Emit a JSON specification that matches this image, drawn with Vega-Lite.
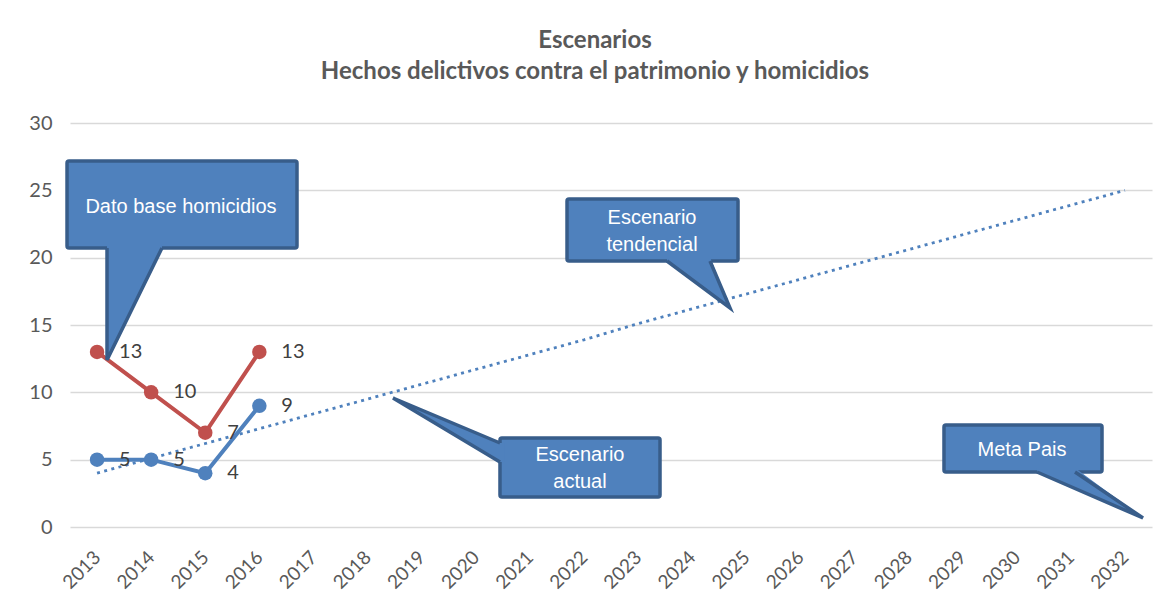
{
  "$schema": "https://vega.github.io/schema/vega-lite/v6.json",
  "width": 1082,
  "height": 404,
  "autosize": {"type": "none"},
  "padding": {"left": 70, "top": 123, "right": 22, "bottom": 84},
  "background": "white",
  "config": {"view": {"stroke": null}},
  "title": {
    "text": ["Escenarios", "Hechos delictivos contra el patrimonio y homicidios"],
    "font": "Lato",
    "fontSize": 24,
    "fontWeight": "bold",
    "color": "#595959",
    "anchor": "middle",
    "lineHeight": 31,
    "offset": 29,
    "dx": -16
  },
  "datasets": {
    "series": [
      {"year": 2013, "value": 13, "serie": "Homicidios"},
      {"year": 2014, "value": 10, "serie": "Homicidios"},
      {"year": 2015, "value": 7, "serie": "Homicidios"},
      {"year": 2016, "value": 13, "serie": "Homicidios"},
      {"year": 2013, "value": 5, "serie": "Patrimonio"},
      {"year": 2014, "value": 5, "serie": "Patrimonio"},
      {"year": 2015, "value": 4, "serie": "Patrimonio"},
      {"year": 2016, "value": 9, "serie": "Patrimonio"}
    ],
    "trend": [
      {"year": 2013, "value": 4.0}, {"year": 2014, "value": 5.1}, {"year": 2015, "value": 6.2},
      {"year": 2016, "value": 7.3}, {"year": 2017, "value": 8.4}, {"year": 2018, "value": 9.5},
      {"year": 2019, "value": 10.6}, {"year": 2020, "value": 11.7}, {"year": 2021, "value": 12.8},
      {"year": 2022, "value": 13.9}, {"year": 2023, "value": 15.1}, {"year": 2024, "value": 16.2},
      {"year": 2025, "value": 17.3}, {"year": 2026, "value": 18.4}, {"year": 2027, "value": 19.5},
      {"year": 2028, "value": 20.6}, {"year": 2029, "value": 21.7}, {"year": 2030, "value": 22.8},
      {"year": 2031, "value": 23.9}, {"year": 2032, "value": 25.0}
    ],
    "boxes": [
      {"id": "c1", "x1": 2012.445, "x2": 2016.696, "y1": 27.18, "y2": 20.72, "tx": 2014.552, "ty": 23.76, "label": "Dato base homicidios"},
      {"id": "c2", "x1": 2021.687, "x2": 2024.848, "y1": 24.356, "y2": 19.752, "tx": 2023.258, "ty": 22.95, "label": "Escenario\ntendencial"},
      {"id": "c3", "x1": 2020.448, "x2": 2023.406, "y1": 6.609, "y2": 2.228, "tx": 2021.927, "ty": 5.35, "label": "Escenario\nactual"},
      {"id": "c4", "x1": 2028.655, "x2": 2031.576, "y1": 7.574, "y2": 4.084, "tx": 2030.097, "ty": 5.718, "label": "Meta  Pais"}
    ],
    "pointers": [
      {"id": "c1", "x": 2013.184, "lo": 12.40, "hi": 21.02},
      {"id": "c1", "x": 2014.2, "lo": 20.72, "hi": 21.02},
      {"id": "c2", "x": 2023.535, "lo": 19.752, "hi": 20.05},
      {"id": "c2", "x": 2024.33, "lo": 17.37, "hi": 20.05},
      {"id": "c2", "x": 2024.70, "lo": 16.262, "hi": 16.262},
      {"id": "c3", "x": 2018.47, "lo": 9.579, "hi": 9.579},
      {"id": "c3", "x": 2020.448, "lo": 4.827, "hi": 6.237},
      {"id": "c3", "x": 2020.53, "lo": 4.827, "hi": 6.237},
      {"id": "c4", "x": 2030.374, "lo": 4.084, "hi": 4.384},
      {"id": "c4", "x": 2031.077, "lo": 2.86, "hi": 4.384},
      {"id": "c4", "x": 2032.334, "lo": 0.668, "hi": 0.668}
    ],
    "outlines": [
      {"id": "c1", "ord": 1, "x": 2013.184, "y": 20.72},
      {"id": "c1", "ord": 2, "x": 2013.184, "y": 12.40},
      {"id": "c1", "ord": 3, "x": 2014.2, "y": 20.72},
      {"id": "c2", "ord": 1, "x": 2023.535, "y": 19.752},
      {"id": "c2", "ord": 2, "x": 2024.70, "y": 16.262},
      {"id": "c2", "ord": 3, "x": 2024.33, "y": 19.752},
      {"id": "c3", "ord": 1, "x": 2020.448, "y": 6.237},
      {"id": "c3", "ord": 2, "x": 2018.47, "y": 9.579},
      {"id": "c3", "ord": 3, "x": 2020.448, "y": 4.827},
      {"id": "c4", "ord": 1, "x": 2030.374, "y": 4.084},
      {"id": "c4", "ord": 2, "x": 2032.334, "y": 0.668},
      {"id": "c4", "ord": 3, "x": 2031.077, "y": 4.084}
    ]
  },
  "layer": [
    {
      "data": {"name": "trend"},
      "mark": {"type": "line", "color": "#4F81BD", "strokeWidth": 2.8, "strokeDash": [3, 4.4], "strokeCap": "butt"},
      "encoding": {
        "x": {
          "field": "year", "type": "quantitative",
          "scale": {"domain": [2012.5, 2032.5], "nice": false, "zero": false},
          "axis": {
            "values": [2013, 2014, 2015, 2016, 2017, 2018, 2019, 2020, 2021, 2022, 2023, 2024, 2025, 2026, 2027, 2028, 2029, 2030, 2031, 2032],
            "format": "d", "title": null, "grid": false, "domain": false, "ticks": false, "tickSize": 0,
            "labelAngle": -45, "labelAlign": "right", "labelBaseline": "middle", "labelPadding": 27,
            "labelFont": "Lato", "labelFontSize": 19, "labelColor": "#595959",
            "labelOverlap": false, "labelFlush": false, "labelBound": false
          }
        },
        "y": {
          "field": "value", "type": "quantitative",
          "scale": {"domain": [0, 30], "nice": false},
          "axis": {
            "values": [0, 5, 10, 15, 20, 25, 30], "title": null, "domain": false, "ticks": false, "tickSize": 0,
            "grid": true, "gridColor": "#D9D9D9", "gridWidth": 1.3,
            "labelPadding": 18, "labelFont": "Lato", "labelFontSize": 20, "labelColor": "#595959"
          }
        }
      }
    },
    {
      "data": {"name": "series"},
      "mark": {"type": "line", "strokeWidth": 4},
      "encoding": {
        "x": {"field": "year", "type": "quantitative"},
        "y": {"field": "value", "type": "quantitative"},
        "color": {"field": "serie", "type": "nominal", "scale": {"domain": ["Homicidios", "Patrimonio"], "range": ["#C0504D", "#4F81BD"]}, "legend": null}
      }
    },
    {
      "data": {"name": "series"},
      "mark": {"type": "circle", "size": 210, "opacity": 1},
      "encoding": {
        "x": {"field": "year", "type": "quantitative"},
        "y": {"field": "value", "type": "quantitative"},
        "color": {"field": "serie", "type": "nominal", "legend": null}
      }
    },
    {
      "data": {"name": "series"},
      "mark": {"type": "text", "align": "left", "baseline": "middle", "dx": 22, "font": "Lato", "fontSize": 20, "color": "#404040"},
      "encoding": {
        "x": {"field": "year", "type": "quantitative"},
        "y": {"field": "value", "type": "quantitative"},
        "text": {"field": "value", "type": "quantitative"}
      }
    },
    {
      "data": {"name": "boxes"},
      "mark": {"type": "rect", "fill": "#4F81BD", "stroke": "#385D8A", "strokeWidth": 3.5, "cornerRadius": 2},
      "encoding": {
        "x": {"field": "x1", "type": "quantitative"},
        "x2": {"field": "x2"},
        "y": {"field": "y1", "type": "quantitative"},
        "y2": {"field": "y2"}
      }
    },
    {
      "data": {"name": "pointers"},
      "mark": {"type": "area", "orient": "vertical", "fill": "#4F81BD", "opacity": 1},
      "encoding": {
        "x": {"field": "x", "type": "quantitative"},
        "y": {"field": "lo", "type": "quantitative"},
        "y2": {"field": "hi"},
        "detail": {"field": "id"}
      }
    },
    {
      "data": {"name": "outlines"},
      "mark": {"type": "line", "color": "#385D8A", "strokeWidth": 3.5, "strokeCap": "butt", "strokeJoin": "miter"},
      "encoding": {
        "x": {"field": "x", "type": "quantitative"},
        "y": {"field": "y", "type": "quantitative"},
        "order": {"field": "ord"},
        "detail": {"field": "id"}
      }
    },
    {
      "data": {"name": "boxes"},
      "mark": {"type": "text", "align": "center", "baseline": "middle", "lineBreak": "\n", "lineHeight": 27, "font": "Liberation Sans", "fontSize": 20, "color": "#FFFFFF"},
      "encoding": {
        "x": {"field": "tx", "type": "quantitative"},
        "y": {"field": "ty", "type": "quantitative"},
        "text": {"field": "label"}
      }
    }
  ]
}
